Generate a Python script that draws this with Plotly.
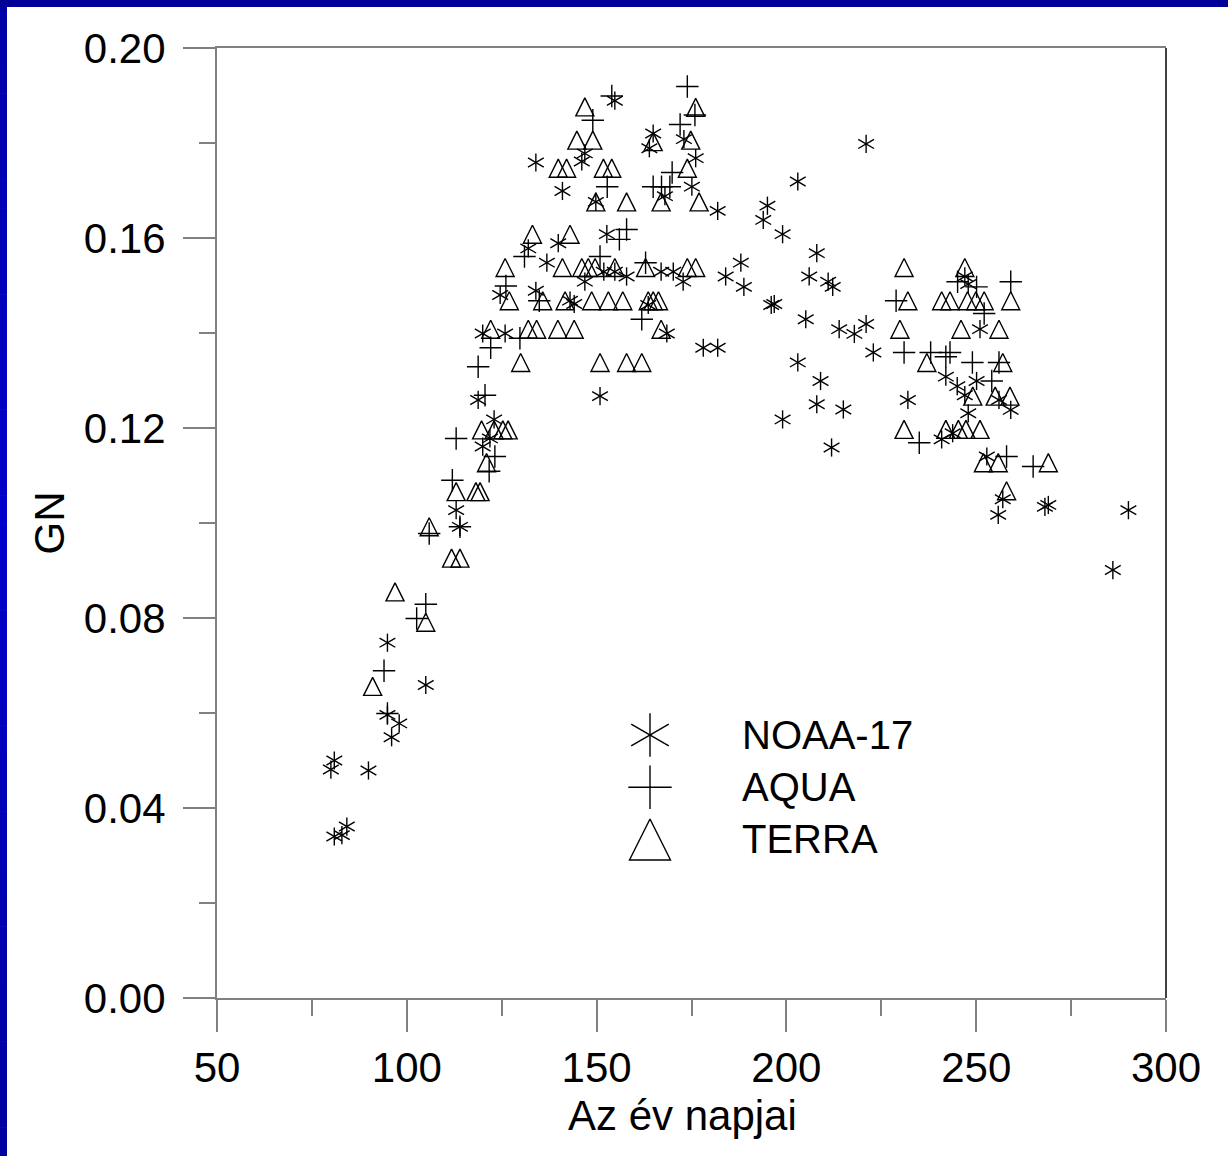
import plotly.graph_objects as go

# ---------------- data ----------------
noaa_day = [80.9, 80.0, 89.9, 84.2, 80.9, 82.9,
            94.9, 98.0, 96.0, 94.9, 105.0, 114.0, 113.0,
            118.8, 123.0, 121.9, 120.0,
            124.6, 120.0, 125.9,
            132.0, 134.0, 139.9, 136.9, 141.0, 134.0, 143.0, 144.1,
            146.9, 146.1, 146.9, 149.8, 151.9, 154.8, 157.9, 152.7, 154.8, 150.9,
            164.9, 163.9, 168.0, 167.0, 170.2, 163.6, 168.5, 173.0, 176.1, 175.1, 172.8, 181.9, 178.1, 181.9,
            188.0, 184.0, 188.8, 195.0, 193.9, 199.0, 203.0, 196.0, 196.8,
            208.0, 206.0, 211.0, 212.2, 205.1, 213.9, 217.9, 221.0, 221.0, 222.9, 203.0, 209.0, 208.0, 215.0, 199.0, 211.9,
            232.0, 247.0, 247.9, 251.0, 242.0, 245.0, 250.1, 247.0, 256.0, 259.1, 247.9, 240.9, 243.8, 252.8, 257.0, 255.8, 268.1, 269.0, 286.0, 290.1]
noaa_gn = [0.0500, 0.0481, 0.0479, 0.0361, 0.0340, 0.0343,
           0.0596, 0.0578, 0.0549, 0.0748, 0.0659, 0.0992, 0.1027,
           0.1259, 0.1218, 0.1178, 0.1161,
           0.1480, 0.1399, 0.1399,
           0.1578, 0.1759, 0.1589, 0.1548, 0.1699, 0.1489, 0.1468, 0.1461,
           0.1778, 0.1761, 0.1508, 0.1676, 0.1529, 0.1529, 0.1519, 0.1608, 0.1889, 0.1267,
           0.1820, 0.1789, 0.1688, 0.1529, 0.1529, 0.1459, 0.1399, 0.1808, 0.1768, 0.1708, 0.1508, 0.1657, 0.1369, 0.1369,
           0.1548, 0.1519, 0.1497, 0.1668, 0.1638, 0.1608, 0.1719, 0.1459, 0.1461,
           0.1568, 0.1519, 0.1508, 0.1497, 0.1429, 0.1408, 0.1398, 0.1419, 0.1798, 0.1359, 0.1338, 0.1299, 0.1250, 0.1239, 0.1218, 0.1159,
           0.1259, 0.1519, 0.1503, 0.1408, 0.1308, 0.1288, 0.1299, 0.1269, 0.1259, 0.1238, 0.1231, 0.1176, 0.1189, 0.1140, 0.1050, 0.1017, 0.1034, 0.1038, 0.0901, 0.1027]

aqua_day = [94.0, 94.9, 105.0, 102.6, 105.9, 114.0, 112.0, 121.7, 123.2, 113.0, 120.6, 118.8, 122.1, 129.8, 126.1, 131.0, 134.9,
            149.0, 154.0, 152.8, 150.9, 157.9, 156.0, 162.9, 161.9, 172.0, 173.9, 175.9, 169.9, 164.9, 167.1, 169.3,
            245.1, 250.1, 259.1, 228.9, 252.1, 231.0, 238.0, 243.1, 242.0, 249.0, 256.0, 254.1, 235.0, 258.0, 265.0]
aqua_gn = [0.0689, 0.0599, 0.0829, 0.0799, 0.0978, 0.0992, 0.1090, 0.1109, 0.1140, 0.1178, 0.1269, 0.1329, 0.1369, 0.1389, 0.1499, 0.1561, 0.1468,
           0.1848, 0.1899, 0.1708, 0.1561, 0.1618, 0.1597, 0.1548, 0.1429, 0.1839, 0.1919, 0.1859, 0.1738, 0.1708, 0.1708, 0.1708,
           0.1508, 0.1497, 0.1508, 0.1468, 0.1441, 0.1359, 0.1359, 0.1359, 0.1350, 0.1338, 0.1338, 0.1299, 0.1169, 0.1140, 0.1119]

terra_day = [91.0, 96.9, 105.0, 105.9, 111.8, 114.0, 113.0, 118.2, 119.3, 121.0, 119.7, 123.0, 125.3, 126.7,
             122.1, 127.0, 125.9, 130.0, 132.0, 134.2, 139.8, 144.1, 133.1, 143.0, 135.8, 141.7, 141.0,
             146.1, 147.8, 149.6, 154.8, 148.7, 153.1, 156.9, 163.6, 164.9, 166.3, 150.9, 157.9, 161.9, 162.9, 173.9, 176.1, 167.0,
             146.9, 176.1, 144.8, 149.0, 164.9, 174.8, 139.9, 142.1, 151.8, 154.0, 173.9, 149.8, 157.9, 167.0, 177.0,
             231.0, 247.0, 259.1, 232.0, 240.9, 243.1, 247.7, 249.9, 252.1, 229.9, 246.0, 256.0, 237.0, 257.0, 249.1, 255.0, 258.9,
             231.0, 242.0, 245.3, 247.3, 251.0, 251.9, 255.8, 269.0, 258.0]
terra_gn = [0.0656, 0.0855, 0.0791, 0.0992, 0.0926, 0.0926, 0.1066, 0.1066, 0.1066, 0.1127, 0.1196, 0.1196, 0.1196, 0.1196,
            0.1408, 0.1468, 0.1538, 0.1338, 0.1408, 0.1408, 0.1408, 0.1408, 0.1608, 0.1608, 0.1468, 0.1468, 0.1538,
            0.1538, 0.1538, 0.1538, 0.1538, 0.1468, 0.1468, 0.1468, 0.1468, 0.1468, 0.1468, 0.1338, 0.1338, 0.1338, 0.1538, 0.1538, 0.1538, 0.1408,
            0.1876, 0.1875, 0.1806, 0.1806, 0.1803, 0.1806, 0.1747, 0.1747, 0.1747, 0.1747, 0.1747, 0.1676, 0.1676, 0.1676, 0.1676,
            0.1538, 0.1538, 0.1468, 0.1468, 0.1468, 0.1468, 0.1468, 0.1468, 0.1468, 0.1408, 0.1408, 0.1408, 0.1338, 0.1338, 0.1267, 0.1267, 0.1267,
            0.1197, 0.1197, 0.1197, 0.1197, 0.1197, 0.1127, 0.1127, 0.1127, 0.1068]

series_names = ["NOAA-17", "AQUA", "TERRA"]
x_ticks = [50, 100, 150, 200, 250, 300]
y_ticks = [0.00, 0.04, 0.08, 0.12, 0.16, 0.20]
x_title = "Az év napjai"
y_title = "GN"

assert len(noaa_day) == len(noaa_gn)
assert len(aqua_day) == len(aqua_gn)
assert len(terra_day) == len(terra_gn)

# ---------------- geometry / style ----------------
W, H = 1228, 1156
ML, MR, MT, MB = 217, 62, 48, 158
PW, PH = W - ML - MR, H - MT - MB
FONT = "Liberation Sans, Arial, Helvetica, sans-serif"
AXC = "#808080"
TICK_FS = 42
TITLE_FS = 42
LEG_FS = 40


def xp(px):
    return (px - ML) / PW


def yp(py):
    return (H - MB - py) / PH


LW = 1.4
mline = dict(color="black", width=LW)

fig = go.Figure()

# TERRA: open triangles (arrow shape rotated & re-centred -> near-equilateral)
fig.add_trace(go.Scatter(
    x=terra_day, y=terra_gn, mode="markers", name=series_names[2], showlegend=False,
    marker=dict(symbol="arrow-down-open", angle=180, standoff=9, size=18,
                color="black", line=mline)))
# AQUA: thin crosses
fig.add_trace(go.Scatter(
    x=aqua_day, y=aqua_gn, mode="markers", name=series_names[1], showlegend=False,
    marker=dict(symbol="cross-thin-open", size=16, color="black", line=mline)))
# NOAA-17: six-armed asterisk built from three rotated strokes
for ang in (0, 60, -60):
    fig.add_trace(go.Scatter(
        x=noaa_day, y=noaa_gn, mode="markers", name=series_names[0], showlegend=False,
        marker=dict(symbol="line-ns-open", angle=ang, size=13, color="black", line=mline)))

# ---------------- legend key (inset, hidden axes) ----------------
leg_rows = list(range(len(series_names)))
for ang in (0, 60, -60):
    fig.add_trace(go.Scatter(
        x=[0], y=[leg_rows[0]], mode="markers", xaxis="x2", yaxis="y2",
        showlegend=False, hoverinfo="skip",
        marker=dict(symbol="line-ns-open", angle=ang, size=31, color="black", line=mline)))
fig.add_trace(go.Scatter(
    x=[0], y=[leg_rows[1]], mode="markers", xaxis="x2", yaxis="y2",
    showlegend=False, hoverinfo="skip",
    marker=dict(symbol="cross-thin-open", size=31, color="black", line=mline)))
fig.add_trace(go.Scatter(
    x=[0], y=[leg_rows[2]], mode="markers", xaxis="x2", yaxis="y2",
    showlegend=False, hoverinfo="skip",
    marker=dict(symbol="arrow-down-open", angle=180, standoff=20.5, size=41,
                color="black", line=mline)))

annotations = []
for r, name in zip(leg_rows, series_names):
    annotations.append(dict(
        x=90, y=r, xref="x2", yref="y2", text=name, showarrow=False,
        xanchor="left", yanchor="middle",
        font=dict(family=FONT, size=LEG_FS, color="black")))

# x-axis title (placed as an annotation to sit where the reference has it)
annotations.append(dict(
    x=xp(682), y=yp(1115), xref="paper", yref="paper", text=x_title, showarrow=False,
    xanchor="center", yanchor="middle",
    font=dict(family=FONT, size=TITLE_FS, color="black")))

# ---------------- frame decoration ----------------
shapes = []
# top dark-blue strip
shapes.append(dict(type="rect", xref="paper", yref="paper",
                   x0=xp(0), x1=xp(W), y0=yp(7), y1=yp(0),
                   fillcolor="#000099", line=dict(width=0), layer="below"))
# left blue strip with a soft vertical gradient
nb = 40
for i in range(nb):
    t = (i + 0.5) / nb
    if t < 0.45:
        b = 0xA8 + (0xCC - 0xA8) * (t / 0.45)
    else:
        b = 0xCC + (0xA0 - 0xCC) * ((t - 0.45) / 0.55)
    y_top = 7 + (H - 7) * i / nb
    y_bot = 7 + (H - 7) * (i + 1) / nb + 0.6
    shapes.append(dict(type="rect", xref="paper", yref="paper",
                       x0=xp(0), x1=xp(7), y0=yp(y_bot), y1=yp(y_top),
                       fillcolor="#0000%02X" % int(round(b)), line=dict(width=0), layer="below"))
# darker right border of the plot frame
shapes.append(dict(type="line", xref="paper", yref="paper", x0=1, x1=1, y0=0, y1=1,
                   line=dict(color="#404040", width=2)))

fig.update_layout(
    width=W, height=H,
    margin=dict(l=ML, r=MR, t=MT, b=MB, pad=0),
    paper_bgcolor="white", plot_bgcolor="white",
    font=dict(family=FONT, color="black"),
    showlegend=False,
    xaxis=dict(
        range=[50, 300], tickvals=x_ticks, ticktext=[str(v) for v in x_ticks],
        ticks="outside", ticklen=32, tickwidth=2, tickcolor=AXC,
        showline=True, linecolor=AXC, linewidth=2, mirror=True,
        showgrid=False, zeroline=False, automargin=False,
        tickfont=dict(family=FONT, size=TICK_FS, color="black"),
        ticklabelstandoff=0,
        minor=dict(tick0=50, dtick=25, ticks="outside", ticklen=16, tickwidth=2,
                   tickcolor=AXC, showgrid=False),
    ),
    yaxis=dict(
        range=[0, 0.2], tickvals=y_ticks, ticktext=["%.2f" % v for v in y_ticks],
        ticks="outside", ticklen=32, tickwidth=2, tickcolor=AXC,
        showline=True, linecolor=AXC, linewidth=2, mirror=False,
        showgrid=False, zeroline=False, automargin=False,
        tickfont=dict(family=FONT, size=TICK_FS, color="black"),
        ticklabelstandoff=9,
        minor=dict(tick0=0, dtick=0.02, ticks="outside", ticklen=16, tickwidth=2,
                   tickcolor=AXC, showgrid=False),
        title=dict(text=y_title, font=dict(family=FONT, size=TITLE_FS, color="black"), standoff=6),
    ),
    xaxis2=dict(domain=[xp(600), xp(1000)], range=[-50, 350], anchor="y2",
                visible=False, fixedrange=True),
    yaxis2=dict(domain=[yp(865.6), yp(708.9)], range=[2.5, -0.5], anchor="x2",
                visible=False, fixedrange=True),
    annotations=annotations,
    shapes=shapes,
)

fig.write_html("out.html", config={"displayModeBar": False},
               post_script="document.body.style.margin='0';")
